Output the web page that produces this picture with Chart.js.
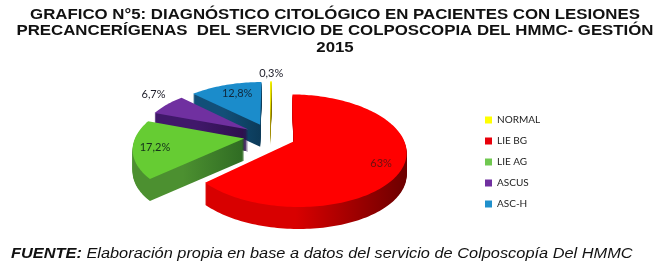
<!DOCTYPE html>
<html>
<head>
<meta charset="utf-8">
<script src="https://cdn.jsdelivr.net/npm/chart.js@4"></script>
<style>
  html, body { margin: 0; padding: 0; background: #fff; }
  #wrap { position: relative; width: 658px; height: 270px; overflow: hidden; }
  #chart { display: block; }
  #fuente { position: absolute; left: 11px; top: 244px; font: italic 15px "Liberation Sans", sans-serif; color: #111; white-space: nowrap; transform-origin: left center; transform: scaleX(1.09); }
</style>
</head>
<body>
<div id="wrap">
  <canvas id="chart" width="658" height="270"></canvas>
  <div id="fuente"><b>FUENTE:</b> Elaboración propia en base a datos del servicio de Colposcopía Del HMMC</div>
</div>
<script>
const categories = ['NORMAL', 'LIE BG', 'LIE AG', 'ASCUS', 'ASC-H'];
const values = [0.3, 63, 17.2, 6.7, 12.8];
const valueLabels = ['0,3%', '63%', '17,2%', '6,7%', '12,8%'];
const titleLines = [
    'GRAFICO N°5: DIAGNÓSTICO CITOLÓGICO EN PACIENTES CON LESIONES',
    'PRECANCERÍGENAS  DEL SERVICIO DE COLPOSCOPIA DEL HMMC- GESTIÓN',
    '2015'
];

const topColors = ['#ffff00', '#ff0000', '#66cc33', '#7030a0', '#1b8ccb'];
const legendColors = ['#ffff00', '#e8000b', '#70c850', '#7030a0', '#2090cc'];
const wallLight = ['#a08c00', '#d80000', '#4c9030', '#40186a', '#124f78'];
const wallDark = ['#6a5c00', '#6c0000', '#2f6b23', '#2c0f4a', '#0c3a58'];
const labelColors = ['#1c1c28', '#6a1010', '#14301a', '#1c1c28', '#10283c'];
// painted back to front
const paintOrder = [0, 4, 3, 2, 1];
// where each percentage sits: distance from centre in radii, and a small turn in degrees
const labelRadius = [1.46, 1.06, 1.045, 1.53, 0.995];
const labelTurn = [0, 2.6, 0, 4.5, 2.5];

// fake 3D view of the pie, only the angles come from the chart
const view = { cx: 270, cy: 136, radiusX: 108.5, radiusY: 53, perspective: 0.163, depth: 22, explode: 0.24 };
// the reference title is an extended face, so stretch it sideways
const titleStretch = { scaleX: 1.16, centerX: 335 };

function project(u, v) {
    const p = 1 / (1 - view.perspective * v);
    return [view.cx + view.radiusX * u * p, view.cy + view.radiusY * v * p];
}

function slicePoints(el) {
    const mid = (el.startAngle + el.endAngle) / 2;
    const ox = view.explode * Math.cos(mid);
    const oy = view.explode * Math.sin(mid);
    const pts = [project(ox, oy)];
    const steps = Math.max(2, Math.ceil((el.endAngle - el.startAngle) * 40));
    for (let i = 0; i <= steps; i++) {
        const a = el.startAngle + (el.endAngle - el.startAngle) * i / steps;
        pts.push(project(ox + Math.cos(a), oy + Math.sin(a)));
    }
    return pts;
}

function fillPoly(ctx, pts, dy, fill) {
    ctx.beginPath();
    pts.forEach((pt, i) => i ? ctx.lineTo(pt[0], pt[1] + dy) : ctx.moveTo(pt[0], pt[1] + dy));
    ctx.closePath();
    ctx.fillStyle = fill;
    ctx.fill();
}

const pie3d = {
    id: 'pie3d',
    afterLayout(chart) {
        // legend sits lower and further in than the box layout puts it
        chart.legend.left = 474;
        chart.legend.right = 560;
        chart.legend.top = 104;
        chart.legend.bottom = 262;

        const block = chart.titleBlock;
        const drawTitle = block.draw.bind(block);
        block.draw = () => {
            const ctx = chart.ctx;
            ctx.save();
            ctx.translate(titleStretch.centerX, 0);
            ctx.scale(titleStretch.scaleX, 1);
            ctx.translate(-chart.width / 2, 0);
            drawTitle();
            ctx.restore();
        };
    },
    beforeDatasetsDraw(chart) {
        const ctx = chart.ctx;
        const arcs = chart.getDatasetMeta(0).data;
        ctx.save();
        paintOrder.forEach(i => {
            const pts = slicePoints(arcs[i]);
            const xs = pts.map(pt => pt[0]);
            const grad = ctx.createLinearGradient(Math.min(...xs), 0, Math.max(...xs), 0);
            grad.addColorStop(0, wallLight[i]);
            grad.addColorStop(0.45, wallLight[i]);
            grad.addColorStop(1, wallDark[i]);
            for (let h = view.depth; h > 0; h--) {
                fillPoly(ctx, pts, h, grad);
            }
            fillPoly(ctx, pts, 0, topColors[i]);
        });
        ctx.font = '11px Lato, sans-serif';
        ctx.textAlign = 'center';
        ctx.textBaseline = 'middle';
        arcs.forEach((el, i) => {
            const a = (el.startAngle + el.endAngle) / 2 + labelTurn[i] * Math.PI / 180;
            const pos = project(labelRadius[i] * Math.cos(a), labelRadius[i] * Math.sin(a));
            ctx.fillStyle = labelColors[i];
            ctx.fillText(valueLabels[i], pos[0], pos[1]);
        });
        ctx.restore();
        return false; // arcs are painted above, skip the flat ones
    }
};

new Chart(document.getElementById('chart').getContext('2d'), {
    type: 'pie',
    data: {
        labels: categories,
        datasets: [{ data: values, backgroundColor: legendColors, borderWidth: 0 }]
    },
    options: {
        responsive: false,
        animation: false,
        plugins: {
            tooltip: { enabled: false },
            title: {
                display: true,
                text: titleLines,
                color: '#111',
                font: { family: '"Liberation Sans", sans-serif', size: 14.5, weight: 'bold', lineHeight: 1.125 },
                padding: { top: 7, bottom: 8 }
            },
            legend: {
                position: 'right',
                align: 'start',
                labels: {
                    boxWidth: 7,
                    boxHeight: 7,
                    padding: 11,
                    color: '#222',
                    font: { family: 'Lato, sans-serif', size: 10 }
                }
            }
        }
    },
    plugins: [pie3d]
});
</script>
</body>
</html>
